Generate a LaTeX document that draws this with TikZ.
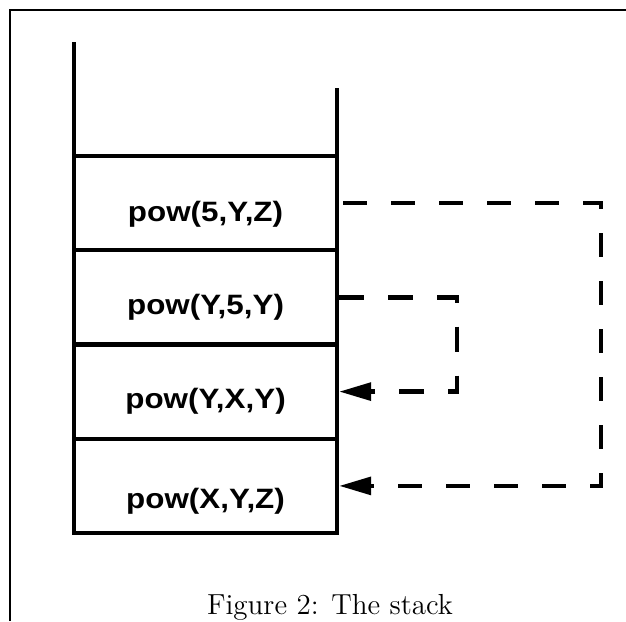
\documentclass[tikz,border=0pt]{standalone}
\usepackage{fontspec}
\newfontfamily\boxfont[FakeStretch=1.12]{Liberation Sans}
\usetikzlibrary{arrows.meta}

\tikzset{
  frameline/.style={line width=1.1pt},
  wall/.style={line width=1.7pt},
  cell/.style={draw, line width=1.7pt, minimum width=105.2pt, minimum height=37.7pt,
    inner sep=0pt, font=\boxfont\bfseries\fontsize{11.2}{13}\selectfont,
    text height=#1, text depth=0pt},
  cell/.default=15.2pt,
  link/.style={line width=1.8pt, -{Triangle[length=12.8pt,width=7pt]}},
  caption/.style={font=\fontsize{11.6}{14}\selectfont, anchor=base, inner sep=0pt}
}

\begin{document}
\begin{tikzpicture}[x=0.4pt, y=-0.4pt]
  \useasboundingbox (0,0) rectangle (626,621);

  % partial outer frame
  \draw[frameline] (10,621) -- (10,10) -- (626,10);

  % the stack cells, top to bottom
  \node[cell=14.6pt] (b1) at (205.5,203.1) {pow(5,Y,Z)};
  \node[cell=13.6pt] (b2) at (205.5,297.4) {pow(Y,5,Y)};
  \node[cell=13.6pt] (b3) at (205.5,391.6) {pow(Y,X,Y)};
  \node[cell=18.4pt] (b4) at (205.5,485.9) {pow(X,Y,Z)};

  % open walls above the top cell
  \coordinate (lt) at (74,42);
  \coordinate (rt) at (337,88);
  \draw[wall] (lt) -- (lt |- b1.north);
  \draw[wall] (rt) -- (rt |- b1.north);

  % turning points of the dashed links
  \coordinate (r1) at (601,0);
  \coordinate (r2) at (457,0);

  \draw[link, dash pattern=on 9.6pt off 9.6pt, dash phase=17.6pt]
    (b1.east) -- (b1.east -| r1) -- (b4.east -| r1) -- (b4.east);
  \draw[link, dash pattern=on 10pt off 9.6pt]
    (b2.east) -- (b2.east -| r2) -- (b3.east -| r2) -- (b3.east);

  \node[caption] (cap) at (330,614) {Figure 2: The stack};
\end{tikzpicture}
\end{document}
